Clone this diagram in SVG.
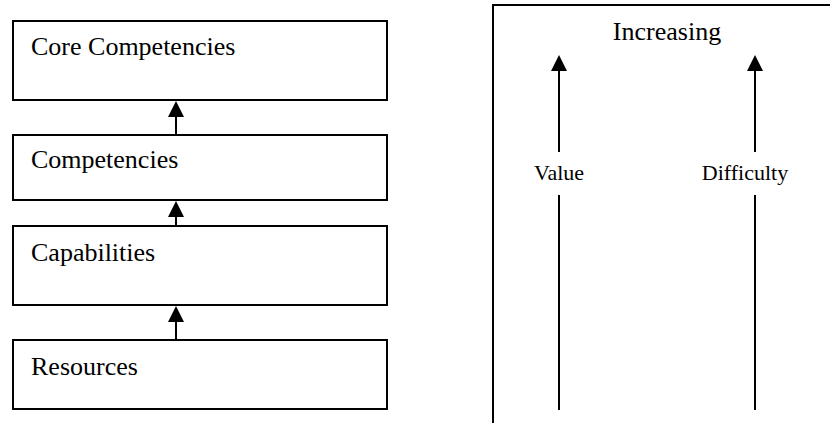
<svg xmlns="http://www.w3.org/2000/svg" width="830" height="423" viewBox="0 0 830 423">
<style>
.box{fill:#fff;stroke:#000;stroke-width:2}
.lbl{font-family:"Liberation Serif","Times New Roman",serif;font-size:26px;fill:#000}
.sm{font-family:"Liberation Serif","Times New Roman",serif;font-size:22px;fill:#000}
.ln{stroke:#000;stroke-width:2;fill:none}
.head{fill:#000}
</style>
<rect width="830" height="423" fill="#fff"/>
<g id="core-competencies"><rect class="box" x="13" y="21" width="374" height="79"/><text class="lbl" x="31" y="55">Core Competencies</text></g>
<g id="competencies"><rect class="box" x="13" y="135" width="374" height="65"/><text class="lbl" x="31" y="168">Competencies</text></g>
<g id="capabilities"><rect class="box" x="13" y="226" width="374" height="79"/><text class="lbl" x="31" y="261">Capabilities</text></g>
<g id="resources"><rect class="box" x="13" y="340" width="374" height="69"/><text class="lbl" x="31" y="375">Resources</text></g>
<g id="increasing-panel"><rect class="box" x="493" y="5" width="400" height="500"/><text class="lbl" x="667" y="40" text-anchor="middle">Increasing</text><text class="sm" x="559" y="180" text-anchor="middle">Value</text><text class="sm" x="745" y="180" text-anchor="middle">Difficulty</text></g>
<g id="connectors">
<line class="ln" x1="176" y1="135" x2="176" y2="115"/><polygon class="head" points="176,101 168,117 184,117"/>
<line class="ln" x1="176" y1="226" x2="176" y2="214"/><polygon class="head" points="176,201 168,217 184,217"/>
<line class="ln" x1="176" y1="340" x2="176" y2="320"/><polygon class="head" points="176,306 168,322 184,322"/>
<line class="ln" x1="559" y1="152" x2="559" y2="68"/><polygon class="head" points="559,55 551,71 567,71"/>
<line class="ln" x1="559" y1="195" x2="559" y2="410"/>
<line class="ln" x1="755" y1="152" x2="755" y2="68"/><polygon class="head" points="755,55 747,71 763,71"/>
<line class="ln" x1="755" y1="195" x2="755" y2="410"/>
</g>
</svg>
